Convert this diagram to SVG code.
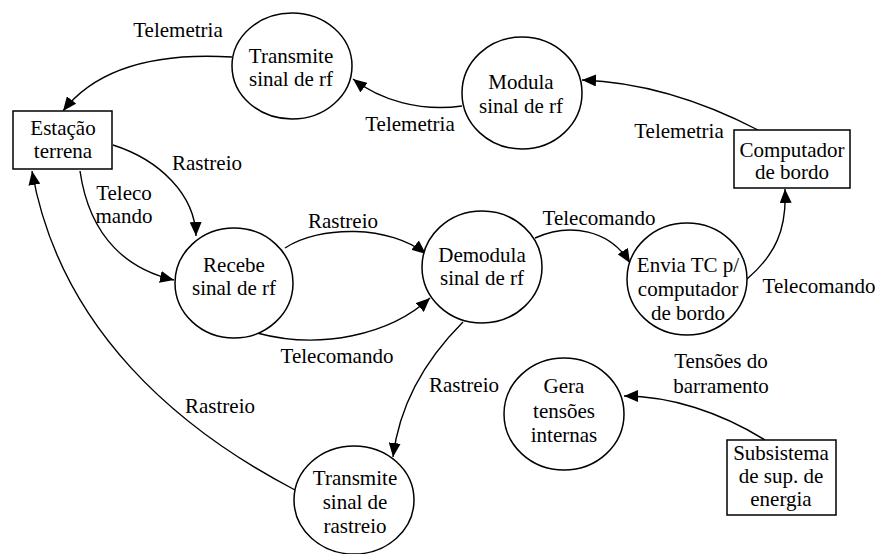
<svg xmlns="http://www.w3.org/2000/svg" width="879" height="554" viewBox="0 0 879 554">
<defs>
<marker id="ah" markerUnits="userSpaceOnUse" markerWidth="14" markerHeight="12" viewBox="0 0 14 12" refX="14" refY="6" orient="auto">
<path d="M0,0 L14,6 L0,12 Z" fill="#000"/>
</marker>
</defs>
<rect width="879" height="554" fill="#fff"/>
<g id="connectors" fill="none" stroke="#000" stroke-width="1.4" marker-end="url(#ah)">
<path d="M232,57 C150,52 95,70 63,111"/>
<path d="M462,106 C420,112 380,100 353,79"/>
<path d="M758,130 C700,100 640,82 582,80"/>
<path d="M113,145 C160,160 195,195 196,236"/>
<path d="M80,171 C90,240 130,270 174,280"/>
<path d="M285,248 C320,225 390,225 426,254"/>
<path d="M257,333 C320,350 390,335 430,298"/>
<path d="M535,238 C570,222 610,230 630,263"/>
<path d="M747,279 C775,255 787,230 785,189"/>
<path d="M463,322 C430,355 400,400 393,457"/>
<path d="M295,490 C180,430 60,330 32,171"/>
<path d="M765,440 C720,412 670,396 624,396"/>
</g>
<g font-family="Liberation Serif" font-size="21" text-anchor="middle" fill="#000">
<g id="labels">
<text x="178" y="37">Telemetria</text>
<text x="410" y="131">Telemetria</text>
<text x="679" y="138">Telemetria</text>
<text x="207" y="170">Rastreio</text>
<text x="124" y="200">Teleco</text>
<text x="124" y="223">mando</text>
<text x="343" y="228">Rastreio</text>
<text x="337" y="363">Telecomando</text>
<text x="220" y="413">Rastreio</text>
<text x="464" y="392">Rastreio</text>
<text x="599" y="225">Telecomando</text>
<text x="819" y="293">Telecomando</text>
<text x="721" y="368">Tensões do</text>
<text x="721" y="393">barramento</text>
</g>
<g id="estacao">
<rect x="13" y="111" width="99" height="58" fill="#fff" stroke="#000" stroke-width="1.5"/>
<text x="63" y="135">Estação</text>
<text x="63" y="158">terrena</text>
</g>
<g id="computador">
<rect x="734" y="130" width="116" height="58" fill="#fff" stroke="#000" stroke-width="1.5"/>
<text x="792" y="157">Computador</text>
<text x="792" y="179">de bordo</text>
</g>
<g id="subsistema">
<rect x="727" y="440" width="109" height="75" fill="#fff" stroke="#000" stroke-width="1.5"/>
<text x="781" y="460">Subsistema</text>
<text x="781" y="483">de sup. de</text>
<text x="781" y="506">energia</text>
</g>
<g id="transmite_rf">
<ellipse cx="292" cy="66" rx="60" ry="53" fill="#fff" stroke="#000" stroke-width="1.5"/>
<text x="291" y="63">Transmite</text>
<text x="291" y="86">sinal de rf</text>
</g>
<g id="modula">
<ellipse cx="522" cy="93" rx="60" ry="56" fill="#fff" stroke="#000" stroke-width="1.5"/>
<text x="521" y="89">Modula</text>
<text x="521" y="113">sinal de rf</text>
</g>
<g id="recebe">
<ellipse cx="234" cy="283" rx="59" ry="55" fill="#fff" stroke="#000" stroke-width="1.5"/>
<text x="234" y="272">Recebe</text>
<text x="234" y="295">sinal de rf</text>
</g>
<g id="demodula">
<ellipse cx="482" cy="267" rx="60" ry="56" fill="#fff" stroke="#000" stroke-width="1.5"/>
<text x="482" y="262">Demodula</text>
<text x="482" y="285">sinal de rf</text>
</g>
<g id="envia">
<ellipse cx="687" cy="279" rx="60" ry="56" fill="#fff" stroke="#000" stroke-width="1.5"/>
<text x="688" y="272">Envia TC p/</text>
<text x="688" y="296">computador</text>
<text x="688" y="320">de bordo</text>
</g>
<g id="gera">
<ellipse cx="564" cy="414" rx="60" ry="56" fill="#fff" stroke="#000" stroke-width="1.5"/>
<text x="564" y="393">Gera</text>
<text x="564" y="418">tensões</text>
<text x="564" y="442">internas</text>
</g>
<g id="transmite_rastreio">
<ellipse cx="354" cy="500" rx="60" ry="54" fill="#fff" stroke="#000" stroke-width="1.5"/>
<text x="355" y="485">Transmite</text>
<text x="355" y="509">sinal de</text>
<text x="355" y="533">rastreio</text>
</g>
</g>
</svg>
